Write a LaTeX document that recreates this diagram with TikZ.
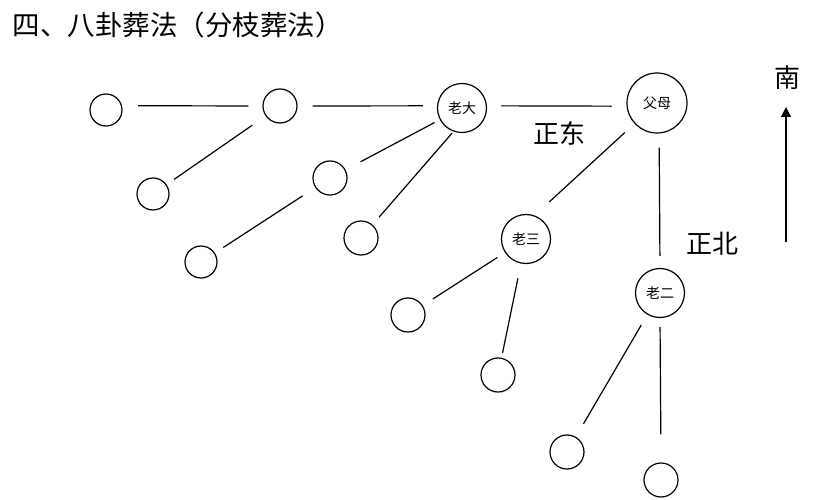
\documentclass[tikz,border=0pt]{standalone}
\usepackage{fontspec}
\newfontfamily\cjk{Noto Sans CJK SC}
\usetikzlibrary{arrows.meta}
\begin{document}
\begin{tikzpicture}[x=1pt, y=-1pt, line width=1.2pt]
      \tikzset{
	  grave/.style={circle, draw=black, inner sep=0pt, minimum size=34pt},
	  smallgrave/.style={grave, minimum size=32pt},
	  elder/.style={circle, draw=black, inner sep=0pt, minimum size=49pt, font=\cjk\fontsize{14}{14}\selectfont},
	  parents/.style={elder, minimum size=60pt},
	  branch/.style={draw=black, shorten <=14pt, shorten >=14pt},
	  compass/.style={inner sep=0pt, font=\cjk\fontsize{26}{26}\selectfont}
      }

      \def\titletext{四、八卦葬法（分枝葬法）}

      \useasboundingbox (0,0) rectangle (815,500);
      \node [anchor=west, inner sep=0pt, font=\cjk\fontsize{27.5}{27.5}\selectfont] (title) at (12,25) {\titletext};

      \node [parents] (fumu) at (657,103) {父母};
      \node [elder] (laoda) at (462,108) {老大};
      \node [elder] (laosan) at (526,239) {老三};
      \node [elder] (laoer) at (660,293) {老二};

      \node [smallgrave] (a1) at (106,110) {};
      \node [grave] (a2) at (280,106) {};
      \node [smallgrave] (b1) at (153,194) {};
      \node [grave] (c1) at (330,178) {};
      \node [grave] (c2) at (361,238) {};
      \node [smallgrave] (d1) at (201,262) {};
      \node [grave] (e1) at (408,315) {};
      \node [grave] (e2) at (498,375) {};
      \node [grave] (f1) at (567,452) {};
      \node [grave] (f2) at (661,480) {};

      \draw [branch, shorten <=15pt] (fumu.186) -- (laoda.5);
      \draw [branch, shorten >=15pt] (laoda.175) -- (a2.east);
      \draw [branch, shorten >=16pt] (a2.west) -- (a1.15);
      \draw [branch, shorten <=16pt, shorten >=9pt] (a2) -- (b1);
      \draw [branch, shorten <=6pt, shorten >=17pt] (laoda) -- (c1);
      \draw [branch, shorten <=2pt, shorten >=10pt] (laoda.-110) -- (c2);
      \draw [branch, shorten <=15pt, shorten >=10pt] (c1) -- (d1);
      \draw [branch, shorten <=13pt, shorten >=20pt] (fumu) -- (laosan.70);
      \draw [branch, shorten <=9pt, shorten >=12pt] (laosan) -- (e1);
      \draw [branch, shorten <=15pt, shorten >=5pt] (laosan) -- (e2);
      \draw [branch, shorten <=14pt, shorten >=12pt] (fumu.-86) -- (laoer.north);
      \draw [branch, shorten <=12pt, shorten >=15pt] (laoer) -- (f1);
      \draw [branch, shorten <=9pt, shorten >=28pt] (laoer.south) -- (f2.north);

      \node [compass] (east) at (559,133) {正东};
      \node [compass] (north) at (712,244) {正北};
      \node [compass] (south) at (787,78) {南};
      \coordinate (arrowtail) at (786,242);
      \coordinate (arrowtip) at (786,107);
      \draw [-{Triangle[length=10pt, width=10pt]}] (arrowtail) -- (arrowtip);
\end{tikzpicture}
\end{document}
